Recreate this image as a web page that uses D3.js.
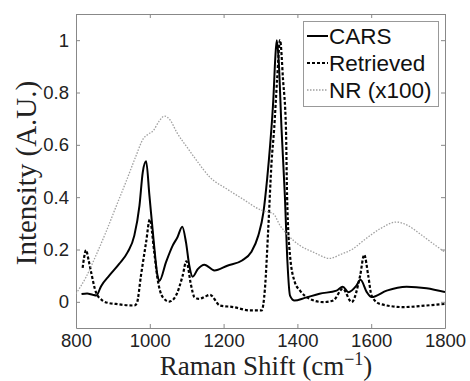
<!DOCTYPE html>
<html>
<head>
<meta charset="utf-8">
<script src="https://cdn.jsdelivr.net/npm/d3@7"></script>
<style>
  body { margin: 0; background: #fff; }
</style>
</head>
<body>
<div id="chart"></div>
<script>
// CARS spectrum (solid)
const carsShift = [815, 830, 845, 855, 868, 890, 917, 940, 958, 972, 981, 990, 999, 1010, 1021, 1026,
  1044, 1062, 1075, 1088, 1098, 1107, 1116, 1130, 1148, 1175, 1210, 1250, 1275, 1294, 1308, 1318,
  1326, 1335, 1340, 1344, 1349, 1357, 1366, 1373, 1380, 1392, 1420, 1460, 1506, 1523, 1538, 1560,
  1571, 1588, 1601, 1642, 1696, 1750, 1800];
const carsValues = [0.03, 0.032, 0.027, 0.024, 0.06, 0.10, 0.145, 0.19, 0.253, 0.368, 0.496, 0.537,
  0.406, 0.24, 0.10, 0.08, 0.152, 0.215, 0.247, 0.287, 0.228, 0.139, 0.096, 0.125, 0.142, 0.12,
  0.138, 0.158, 0.19, 0.253, 0.343, 0.47, 0.597, 0.78, 0.93, 1.0, 0.93, 0.661, 0.406, 0.152, 0.024,
  0.005, 0.015, 0.031, 0.043, 0.058, 0.037, 0.062, 0.084, 0.037, 0.018, 0.043, 0.058, 0.052, 0.037];

// Retrieved spectrum (dashed)
const retShift = [818, 822, 827, 834, 841, 854, 872, 890, 908, 930, 958, 965, 976, 990, 1000, 1012,
  1021, 1035, 1053, 1071, 1089, 1099, 1112, 1121, 1134, 1150, 1163, 1190, 1226, 1272, 1303, 1312,
  1321, 1330, 1337, 1345, 1353, 1361, 1369, 1372, 1380, 1393, 1407, 1434, 1470, 1497, 1523, 1547,
  1570, 1581, 1592, 1601, 1624, 1687, 1750, 1800];
const retValues = [0.13, 0.17, 0.198, 0.16, 0.113, 0.037, 0.005, -0.005, -0.008, -0.012, -0.014,
  -0.005, 0.10, 0.228, 0.315, 0.19, 0.088, 0.018, 0.001, 0.024, 0.10, 0.155, 0.062, 0.018, 0.011,
  0.02, 0.027, -0.014, -0.02, -0.033, -0.033, 0.05, 0.279, 0.534, 0.661, 0.85, 1.0, 0.85, 0.661,
  0.406, 0.177, 0.075, 0.043, 0.011, -0.001, 0.005, 0.05, -0.001, 0.10, 0.18, 0.10, 0.024, -0.008,
  -0.02, -0.014, -0.008];

// Non-resonant background x100 (dotted)
const nrShift = [800, 827, 854, 881, 908, 935, 963, 982, 995, 1010, 1025, 1040, 1055, 1073, 1104,
  1127, 1163, 1208, 1253, 1299, 1335, 1353, 1371, 1389, 1407, 1443, 1488, 1515, 1551, 1579, 1624,
  1669, 1696, 1732, 1768, 1800];
const nrValues = [0.031, 0.094, 0.177, 0.266, 0.362, 0.457, 0.559, 0.623, 0.64, 0.655, 0.69, 0.71,
  0.695, 0.648, 0.585, 0.54, 0.476, 0.432, 0.392, 0.352, 0.336, 0.292, 0.26, 0.235, 0.215, 0.19,
  0.166, 0.18, 0.203, 0.234, 0.279, 0.305, 0.294, 0.26, 0.222, 0.19];

const xTicks = [800, 1000, 1200, 1400, 1600, 1800];
const yTicks = [0, 0.2, 0.4, 0.6, 0.8, 1];
const seriesNames = ["CARS", "Retrieved", "NR (x100)"];

const width = 470, height = 381;
const margin = {top: 14, right: 25, bottom: 53, left: 76};

const svg = d3.select("#chart")
  .append("svg")
  .attr("width", width)
  .attr("height", height);

const xScale = d3.scaleLinear()
  .domain([800, 1800])
  .range([margin.left, width - margin.right]);

const yScale = d3.scaleLinear()
  .domain([-0.1, 1.1])
  .range([height - margin.bottom, margin.top]);

const styles = [
  {stroke: "#000", width: 2, dash: null},
  {stroke: "#000", width: 2.2, dash: "3,2"},
  {stroke: "#a0a0a0", width: 1.3, dash: "1.5,1.5"}
];

const series = [
  d3.zip(carsShift, carsValues),
  d3.zip(retShift, retValues),
  d3.zip(nrShift, nrValues)
];

const line = d3.line()
  .x(d => xScale(d[0]))
  .y(d => yScale(d[1]))
  .curve(d3.curveMonotoneX);

// clip to plot box
svg.append("clipPath").attr("id", "clip")
  .append("rect")
  .attr("x", margin.left).attr("y", margin.top)
  .attr("width", width - margin.left - margin.right)
  .attr("height", height - margin.top - margin.bottom);

// axes: MATLAB style box with inward ticks
const axisColor = "#888";
const tickFont = "'Liberation Sans', Arial, sans-serif";

const xBottom = svg.append("g")
  .attr("transform", `translate(0,${height - margin.bottom})`)
  .call(d3.axisBottom(xScale).tickValues(xTicks).tickSizeInner(-4).tickSizeOuter(0).tickPadding(6)
    .tickFormat(d3.format("d")));
const xTop = svg.append("g")
  .attr("transform", `translate(0,${margin.top})`)
  .call(d3.axisTop(xScale).tickValues(xTicks).tickSizeInner(-4).tickSizeOuter(0).tickFormat(""));
const yLeft = svg.append("g")
  .attr("transform", `translate(${margin.left},0)`)
  .call(d3.axisLeft(yScale).tickValues(yTicks).tickSizeInner(-4).tickSizeOuter(0).tickPadding(7)
    .tickFormat(d => d === 0 ? "0" : d === 1 ? "1" : d3.format(".1f")(d)));
const yRight = svg.append("g")
  .attr("transform", `translate(${width - margin.right},0)`)
  .call(d3.axisRight(yScale).tickValues(yTicks).tickSizeInner(-4).tickSizeOuter(0).tickFormat(""));

[xBottom, xTop, yLeft, yRight].forEach(g => {
  g.select(".domain").attr("stroke", axisColor);
  g.selectAll(".tick line").attr("stroke", axisColor);
  g.selectAll("text")
    .attr("fill", "#222")
    .style("font-family", tickFont)
    .style("font-size", "18.5px");
});

// spectra
series.forEach((s, i) => {
  svg.append("path")
    .datum(s)
    .attr("clip-path", "url(#clip)")
    .attr("fill", "none")
    .attr("stroke", styles[i].stroke)
    .attr("stroke-width", styles[i].width)
    .attr("stroke-dasharray", styles[i].dash)
    .attr("d", line);
});

// axis labels
const labelFont = "'Liberation Serif', 'Times New Roman', serif";
const xLabel = svg.append("text")
  .attr("x", 266)
  .attr("y", 375)
  .style("text-anchor", "middle")
  .style("font-family", labelFont)
  .style("font-size", "27px")
  .attr("fill", "#222");
xLabel.append("tspan").text("Raman Shift (cm");
xLabel.append("tspan").attr("dy", -10).style("font-size", "18px").text("\u22121");
xLabel.append("tspan").attr("dy", 10).text(")");

svg.append("text")
  .attr("x", -173)
  .attr("y", 36)
  .attr("transform", "rotate(-90)")
  .style("text-anchor", "middle")
  .style("font-family", labelFont)
  .style("font-size", "29px")
  .attr("fill", "#222")
  .text("Intensity (A.U.)");

// legend
const legend = svg.append("g");
legend.append("rect")
  .attr("x", 303.5).attr("y", 21.5)
  .attr("width", 135).attr("height", 85)
  .attr("fill", "#fff")
  .attr("stroke", "#999");

const legendItem = legend.selectAll(".legend")
  .data(seriesNames)
  .enter().append("g")
  .attr("class", "legend")
  .attr("transform", (d, i) => `translate(0,${36 + i * 27})`);

legendItem.append("line")
  .attr("x1", 307).attr("x2", 328)
  .attr("y1", 0).attr("y2", 0)
  .attr("stroke", (d, i) => styles[i].stroke)
  .attr("stroke-width", (d, i) => styles[i].width)
  .attr("stroke-dasharray", (d, i) => styles[i].dash);

legendItem.append("text")
  .attr("x", 329)
  .attr("y", 0)
  .attr("dy", "0.36em")
  .style("font-family", tickFont)
  .style("font-size", "22.5px")
  .attr("fill", "#111")
  .text(d => d);
</script>
</body>
</html>
